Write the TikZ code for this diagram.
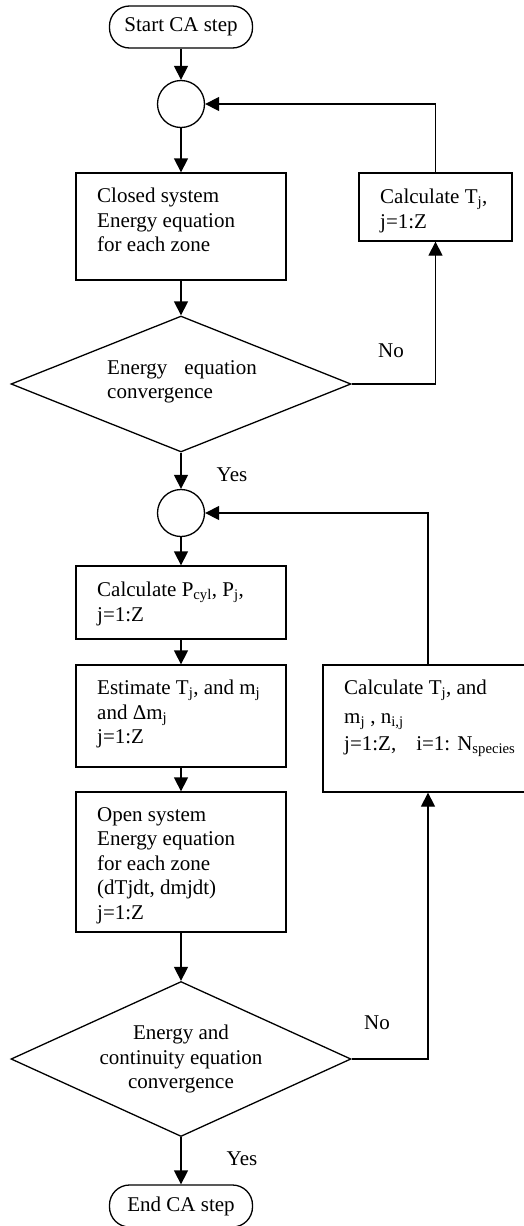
\documentclass[tikz,border=0pt]{standalone}
\usepackage{fontspec}
\setmainfont{Liberation Serif}
\usetikzlibrary{shapes.geometric,arrows.meta}
\begin{document}
\begin{tikzpicture}[x=1pt,y=-1pt,
  every node/.style={font=\fontsize{21}{24.5}\selectfont},
  line/.style={line width=1.3pt},
  arr/.style={line, -{Triangle[length=14pt,width=14pt]}},
  box/.style={draw,line width=1.3pt,minimum width=210pt,inner sep=0pt},
  term/.style={draw,line width=1.3pt,rounded corners=20pt,minimum width=143pt,minimum height=42pt,inner sep=0pt},
  junc/.style={draw,circle,line width=1.3pt,minimum size=47pt,inner sep=0pt},
  dec/.style={draw,diamond,line width=1.3pt,inner sep=0pt,minimum width=340pt},
  txt/.style={anchor=north west,inner sep=0pt,align=left},
  lab/.style={inner sep=0pt}]
\useasboundingbox (0,0) rectangle (523,1226);

\node[term] (start) at (181,27) {Start CA step};
\node[junc] (c1) at (181,104) {};
\node[box,minimum height=107pt] (b1) at (181,226.5) {};
\node[txt] (b1t) at (97,188) {Closed system\\Energy equation\\for each zone};
\node[box,minimum width=153pt,minimum height=68pt] (ct) at (435.5,207) {};
\node[txt] (ctt) at (380,189) {Calculate T\textsubscript{j},\\j=1:Z};
\node[dec,minimum height=136pt] (d1) at (181,384) {};
\node[txt] (d1t) at (107,360) {Energy\hspace{17pt}equation\\convergence};
\node[lab] (no1) at (391,351) {No};
\node[lab] (yes1) at (232,475) {Yes};

\node[junc] (c2) at (181,513) {};
\node[box,minimum height=73pt] (p) at (181,602.5) {};
\node[txt] (pt) at (97,582) {Calculate P\textsubscript{cyl}, P\textsubscript{j},\\j=1:Z};
\node[box,minimum height=102pt] (e) at (181,716) {};
\node[txt] (et) at (97,680) {Estimate T\textsubscript{j}, and m\textsubscript{j}\\and Δm\textsubscript{j}\\j=1:Z};
\node[box,minimum height=140pt] (o) at (181,862) {};
\node[txt] (ot) at (97,807) {Open system\\Energy equation\\for each zone\\(dTjdt, dmjdt)\\j=1:Z};
\node[box,minimum height=127pt] (ctm) at (428,728.5) {};
\node[txt] (ctmt) at (344,680) {Calculate T\textsubscript{j}, and\\[4pt]m\textsubscript{j} , n\textsubscript{i,j}\\[3pt]j=1:Z,\hspace{20pt}i=1: N\textsubscript{species}};

\node[dec,minimum height=155pt] (d2) at (181,1059) {};
\node[txt,anchor=north,align=center] (d2t) at (181,1025) {Energy and\\continuity equation\\convergence};
\node[lab] (no2) at (377,1023) {No};
\node[lab] (yes2) at (242,1159) {Yes};
\node[term] (end) at (181,1206) {End CA step};

\draw[arr] (start) -- (c1);
\draw[arr] (c1) -- (b1);
\draw[arr] (b1) -- (d1);
\draw[arr] (d1.east) -| (ct.south);
\draw[arr] (ct.north) |- (c1.east);
\draw[arr] (d1) -- (c2);
\draw[arr] (c2) -- (p);
\draw[arr] (p) -- (e);
\draw[arr] (e) -- (o);
\draw[arr] (o) -- (d2);
\draw[arr] (d2.east) -| (ctm.south);
\draw[arr] (ctm.north) |- (c2.east);
\draw[arr] (d2) -- (end);
\end{tikzpicture}
\end{document}
